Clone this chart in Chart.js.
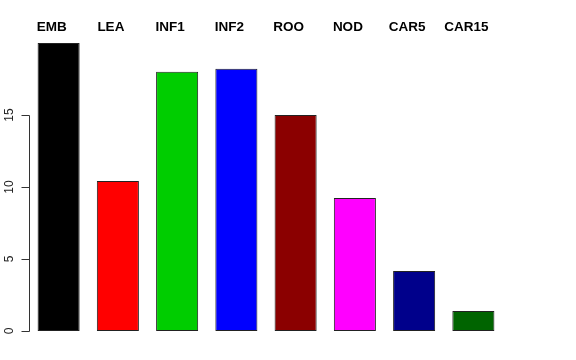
<!DOCTYPE html>
<html>
<head>
<meta charset="utf-8">
<script src="https://cdn.jsdelivr.net/npm/chart.js@4"></script>
<style>
  html, body { margin: 0; padding: 0; background: #fff; }
  #wrap { width: 576px; height: 360px; }
</style>
</head>
<body>
<div id="wrap"><canvas id="chartCanvas" width="576" height="360"></canvas></div>
<script>
let tissues = ['EMB', 'LEA', 'INF1', 'INF2', 'ROO', 'NOD', 'CAR5', 'CAR15'];
let counts = [20.0, 10.42, 18.0, 18.22, 15.0, 9.24, 4.17, 1.39];
let barColors = ['#000000', '#FF0000', '#00CD00', '#0000FF', '#8B0000', '#FF00FF', '#00008B', '#006400'];
let yTicks = [0, 5, 10, 15];

// R style y axis: line only over the tick range, labels turned 90 degrees
let rAxis = {
    id: 'rAxis',
    afterDraw(chart) {
        let ctx = chart.ctx;
        let y = chart.scales.y;
        let lx = Math.floor(chart.chartArea.left) + 0.5;
        ctx.save();
        ctx.strokeStyle = '#333';
        ctx.lineWidth = 1;
        ctx.beginPath();
        ctx.moveTo(lx, Math.round(y.getPixelForValue(yTicks[0])) + 0.5);
        ctx.lineTo(lx, Math.round(y.getPixelForValue(yTicks[yTicks.length - 1])) + 0.5);
        yTicks.forEach(t => {
            let py = Math.round(y.getPixelForValue(t)) + 0.5;
            ctx.moveTo(lx, py);
            ctx.lineTo(lx - 8, py);
        });
        ctx.stroke();
        ctx.fillStyle = '#222';
        ctx.font = '12px "Liberation Sans", Arial, sans-serif';
        ctx.textAlign = 'center';
        ctx.textBaseline = 'alphabetic';
        yTicks.forEach(t => {
            ctx.save();
            ctx.translate(lx - 16.5, y.getPixelForValue(t));
            ctx.rotate(-Math.PI / 2);
            ctx.fillText(String(t), 0, 0);
            ctx.restore();
        });
        ctx.restore();
    }
};

let mychart = document.getElementById('chartCanvas').getContext('2d');
let chart = new Chart(mychart, {
    type: 'bar',
    data: {
        labels: tissues,
        datasets: [{
            data: counts,
            backgroundColor: barColors,
            borderColor: '#222',
            borderWidth: 1,
            borderSkipped: false,
            barPercentage: 0.71,
            categoryPercentage: 1
        }]
    },
    options: {
        responsive: false,
        animation: false,
        layout: { padding: { left: 29, right: 73, top: 0, bottom: 29 } },
        plugins: { legend: { display: false }, tooltip: { enabled: false } },
        scales: {
            x: {
                position: 'top',
                grid: { display: false, drawTicks: false },
                border: { display: false },
                afterFit(scale) { scale.height = 43; },
                ticks: {
                    color: '#000',
                    padding: 8,
                    labelOffset: -7,
                    maxRotation: 0,
                    font: { family: '"Liberation Sans", Arial, sans-serif', size: 13.5, weight: 'bold' }
                }
            },
            y: {
                display: false,
                min: 0,
                max: 20
            }
        }
    },
    plugins: [rAxis]
});
</script>
</body>
</html>
